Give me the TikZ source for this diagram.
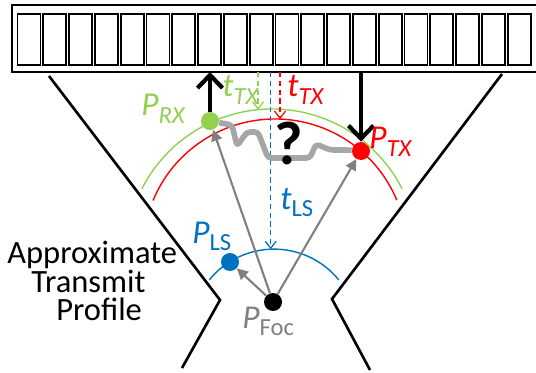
\documentclass[tikz,border=0pt]{standalone}
\usepackage{fontspec}
\setmainfont{Carlito}
\usetikzlibrary{arrows.meta,positioning}

\definecolor{rxgreen}{HTML}{92D050}
\definecolor{txred}{HTML}{FF0000}
\definecolor{lsblue}{HTML}{0070C0}
\definecolor{focgray}{HTML}{808080}
\definecolor{pathgray}{HTML}{A6A6A6}

\newcommand{\subs}[1]{\raisebox{-4.5pt}{\fontsize{14}{14}\selectfont #1}}

\begin{document}
\begin{tikzpicture}[
		x=0.02cm, y=0.02cm,
		element/.style={draw=black, line width=1.1pt},
		dot/.style={circle, inner sep=0pt, minimum size=0.36cm},
		wall/.style={draw=black, line width=1.5pt},
		front/.style={line width=0.8pt},
		delayarrow/.style={
			dash pattern=on 3pt off 2pt,
			line width=0.7pt,
			-{Straight Barb[length=1.4mm,width=2.2mm]}
		},
		ray/.style={
			draw=focgray,
			line width=1.2pt,
			-{Triangle[length=2.2mm,width=2.2mm]}
		},
		bigarrow/.style={
			draw=black,
			line width=2.4pt,
			-{Straight Barb[length=2.6mm,width=5mm]}
		},
		wave/.style={draw=pathgray, line width=3.2pt, rounded corners=2pt, line join=round},
		lbl/.style={inner sep=0pt, anchor=base west, font=\fontsize{19}{19}\selectfont},
		profile/.style={inner sep=0pt, align=left, font=\fontsize{18.5}{15.7}\selectfont}
		]
		
		\useasboundingbox (0,0) rectangle (536,372);
		\clip (0,0) rectangle (536,372);
		
		% transducer array
		\draw[line width=1.3pt] (12,300) rectangle (560,367);
		\foreach \i in {0,...,19}
			\draw[element] (17.5+25.8*\i,307) rectangle ++(23,51);
		
		% lens walls
		\draw[wall] (49,296) -- (220,72) -- (182,4);
		\draw[wall] (502,298) -- (332,73) -- (370,2);
		
		% points
		\node[dot, fill=rxgreen] (prx) at (210,251) {};
		\node[dot, fill=txred] (ptx) at (361,221) {};
		\node[dot, fill=lsblue] (pls) at (230,110) {};
		\node[dot, fill=black] (pfoc) at (273,70) {};
		
		% wavefronts
		\draw[front, rxgreen] (272,117) ++(153:146) arc[start angle=153, end angle=27, radius=146];
		\draw[front, txred] (275,121) ++(157.5:132) arc[start angle=157.5, end angle=22.7, radius=132];
		\draw[front, lsblue] (274,39.4) ++(140.8:83.5) arc[start angle=140.8, end angle=39.2, radius=83.5];
		
		% delays
		\coordinate (gtop) at (258,300);
		\coordinate (gbot) at (258,262.3);
		\coordinate (rtop) at (280,300);
		\coordinate (rbot) at (280,252.9);
		\coordinate (btop) at (270.7,300);
		\coordinate (bbot) at (270.7,122.8);
		\draw[delayarrow, rxgreen] (gtop) -- (gbot);
		\draw[delayarrow, txred] (rtop) -- (rbot);
		\draw[delayarrow, lsblue] (btop) -- (bbot);
		
		% rays from focus
		\draw[ray] (pfoc) -- (prx);
		\draw[ray] (pfoc) -- (ptx);
		\draw[ray] (pfoc) -- (pls);
		
		% unknown path
		\draw[wave] (prx) -- (232,247) -- (237,226) -- (247,240) -- (258,240) -- (268,214)
			-- (310,214) -- (316,228) -- (330,222) -- (347,222) -- (ptx);
		\node[font=\fontsize{35}{35}\selectfont\bfseries, inner sep=0pt] (qmark) at (289,229) {?};
		
		% receive / transmit
		\coordinate (rxtop) at (210,300);
		\coordinate (txtop) at (361,300);
		\draw[bigarrow] (prx) -- (rxtop);
		\draw[bigarrow] (txtop) -- (ptx);
		
		% labels
		\node[lbl, text=rxgreen] (prxlbl) at (141,256) {\textit{P}\subs{\textit{RX}}};
		\node[lbl, text=txred] (ptxlbl) at (369,223) {\textit{P}\subs{\textit{TX}}};
		\node[lbl, text=rxgreen] (ttxg) at (222,275) {\textit{t}\subs{\textit{TX}}};
		\node[lbl, text=txred] (ttxr) at (287,275) {\textit{t}\subs{\textit{TX}}};
		\node[lbl, text=lsblue] (tls) at (280,163) {\textit{t}\subs{LS}};
		\node[lbl, text=lsblue] (plslbl) at (192,129) {\textit{P}\subs{LS}};
		\node[lbl, text=focgray] (pfoclbl) at (242,44) {\textit{P}\subs{Foc}};
		
		\node[profile, anchor=base west] (profiletxt) at (7,52)
			{Approximate\\\hspace{0.48cm}Transmit\\\hspace{0.98cm}Profile};
		
	\end{tikzpicture}
\end{document}
